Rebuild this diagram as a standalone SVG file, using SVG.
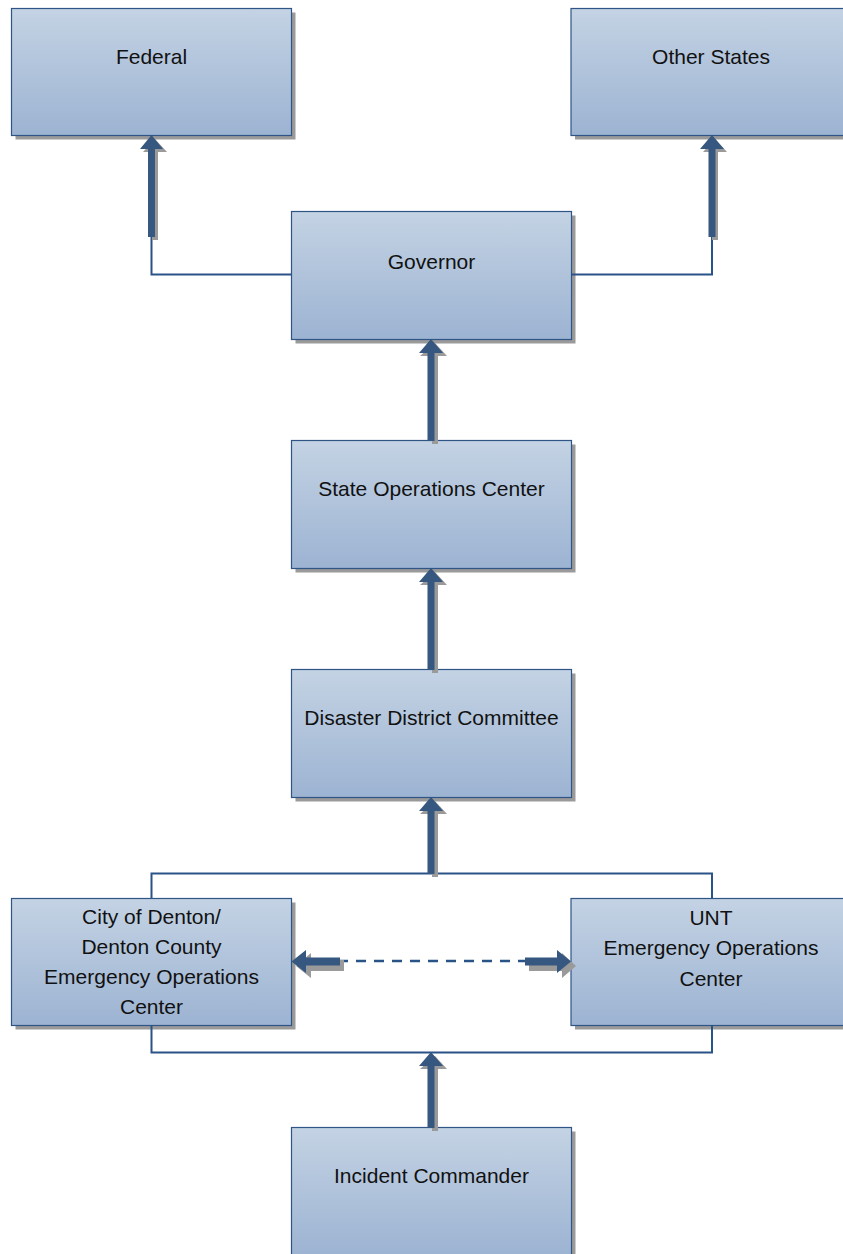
<svg xmlns="http://www.w3.org/2000/svg" width="843" height="1254" viewBox="0 0 843 1254">
<defs>
<linearGradient id="g" x1="0" y1="0" x2="0" y2="1">
<stop offset="0" stop-color="#c4d3e4"/>
<stop offset="1" stop-color="#9cb3d2"/>
</linearGradient>
</defs>
<style>
.sh{fill:#9a9a9a}
.bx{fill:url(#g);stroke:#2e5586;stroke-width:1.2}
.t{font-family:"Liberation Sans",Arial,sans-serif;font-size:21px;fill:#111;text-anchor:middle}
.ln{fill:none;stroke:#2a5388;stroke-width:2}
.ar{fill:#36577f}
.as{fill:#9a9a9a}
.dash{stroke:#2a5388;stroke-width:2.5;stroke-dasharray:10 8;fill:none}
</style>
<g id="federal">
<rect class="sh" x="15.5" y="12.5" width="280" height="127"/>
<rect class="bx" x="11.5" y="8.5" width="280" height="127"/>
<text class="t" x="151.5" y="64">Federal</text>
</g>
<g id="other-states">
<rect class="sh" x="575" y="12.5" width="280" height="127"/>
<rect class="bx" x="571" y="8.5" width="280" height="127"/>
<text class="t" x="711" y="64">Other States</text>
</g>
<g id="governor">
<rect class="sh" x="295.5" y="215.5" width="280" height="128"/>
<rect class="bx" x="291.5" y="211.5" width="280" height="128"/>
<text class="t" x="431.5" y="269">Governor</text>
</g>
<g id="state-ops">
<rect class="sh" x="295.5" y="444.5" width="280" height="128"/>
<rect class="bx" x="291.5" y="440.5" width="280" height="128"/>
<text class="t" x="431.5" y="496">State Operations Center</text>
</g>
<g id="ddc">
<rect class="sh" x="295.5" y="673.5" width="280" height="128"/>
<rect class="bx" x="291.5" y="669.5" width="280" height="128"/>
<text class="t" x="431.5" y="725">Disaster District Committee</text>
</g>
<g id="city-eoc">
<rect class="sh" x="15.5" y="902.5" width="280" height="127"/>
<rect class="bx" x="11.5" y="898.5" width="280" height="127"/>
<text class="t" x="151.5" y="924">City of Denton/</text>
<text class="t" x="151.5" y="954">Denton County</text>
<text class="t" x="151.5" y="984">Emergency Operations</text>
<text class="t" x="151.5" y="1014">Center</text>
</g>
<g id="unt-eoc">
<rect class="sh" x="575" y="902.5" width="280" height="127"/>
<rect class="bx" x="571" y="898.5" width="280" height="127"/>
<text class="t" x="711" y="925">UNT</text>
<text class="t" x="711" y="955">Emergency Operations</text>
<text class="t" x="711" y="986">Center</text>
</g>
<g id="incident-commander">
<rect class="sh" x="295.5" y="1131.5" width="280" height="128"/>
<rect class="bx" x="291.5" y="1127.5" width="280" height="128"/>
<text class="t" x="431.5" y="1183">Incident Commander</text>
</g>
<g id="connectors">
<path class="ln" d="M291.5,274.5 H151.5 V230"/>
<path class="ln" d="M571,274.5 H712 V230"/>
<path class="ln" d="M151.5,898 V873.5 H712 V898"/>
<path class="ln" d="M151.5,1025 V1052.5 H712 V1025"/>
<path class="dash" d="M338,961 H528"/>
<path class="as" d="M152,240 V152 H143 L155,139 L167,152 H158 V240 Z"/>
<path class="as" d="M712,240 V152 H703 L715,139 L727,152 H718 V240 Z"/>
<path class="as" d="M432,444 V356 H420 L435,343 L447,356 H438 V444 Z"/>
<path class="as" d="M432,673 V585 H420 L435,572 L447,585 H438 V673 Z"/>
<path class="as" d="M432,877 V814 H420 L435,801 L447,814 H438 V877 Z"/>
<path class="as" d="M432,1131 V1069 H420 L435,1056 L447,1069 H438 V1131 Z"/>
<path class="ar" d="M148,237 V149 H140 L151.5,135 L163,149 H155 V237 Z"/>
<path class="ar" d="M708.5,237 V149 H700 L712,135 L724,149 H715.5 V237 Z"/>
<path class="ar" d="M427.5,441 V353 H419 L431,339 L443,353 H434.5 V441 Z"/>
<path class="ar" d="M427.5,670 V582 H419 L431,568 L443,582 H434.5 V670 Z"/>
<path class="ar" d="M427.5,874 V811 H419 L431,797 L443,811 H434.5 V874 Z"/>
<path class="ar" d="M427.5,1128 V1066 H419 L431,1052 L443,1066 H434.5 V1128 Z"/>
<path class="as" d="M344,960 H311 V953 L296,966 L311,978 V971 H344 Z"/>
<path class="ar" d="M340,957.5 H306 V950 L291.5,961.5 L306,973 V965.5 H340 Z"/>
<path class="as" d="M529,960 H562 V953 L576,966 L562,978 V971 H529 Z"/>
<path class="ar" d="M525,957.5 H557 V950 L571,961.5 L557,973 V965.5 H525 Z"/>
</g>
</svg>
